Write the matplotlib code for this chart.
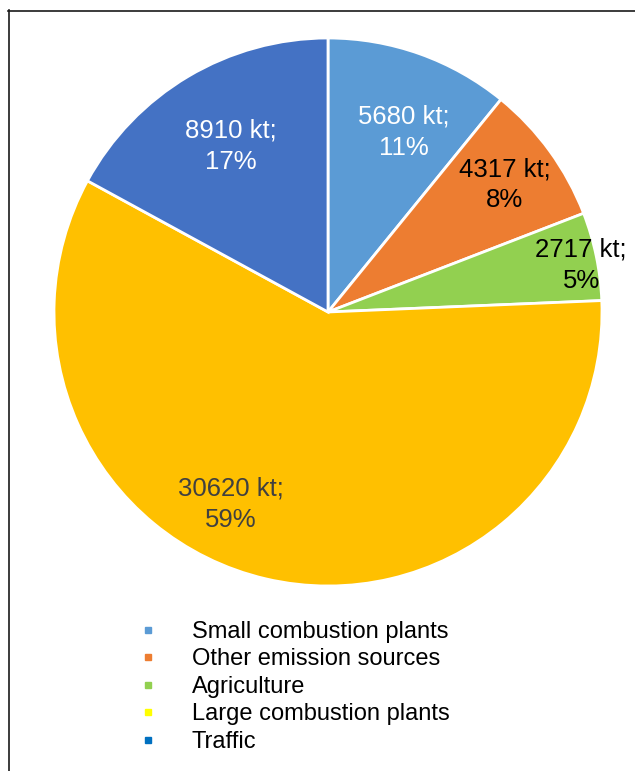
import matplotlib.pyplot as plt
import numpy as np
from matplotlib.lines import Line2D

plt.rcParams['font.family'] = ['Liberation Sans', 'DejaVu Sans']

# emission sources and amounts (kt)
sources = ['Small combustion plants', 'Other emission sources', 'Agriculture',
           'Large combustion plants', 'Traffic']
amounts = [5680, 4317, 2717, 30620, 8910]
shares = [11, 8, 5, 59, 17]

pie_colors = ['#5B9BD5', '#ED7D31', '#92D050', '#FFC000', '#4472C4']
legend_colors = ['#5B9BD5', '#ED7D31', '#92D050', '#FFFF00', '#0070C0']
label_colors = ['white', 'black', 'black', '#404040', 'white']
# (angle in degrees, radius fraction) for each data label
label_place = [(67.1, 0.713), (35.7, 0.795), (10.5, 0.94), (243.2, 0.785), (120.4, 0.70)]

W, H = 635, 771
fig = plt.figure(figsize=(W / 100, H / 100), dpi=100)
cx, cy, R = 328, 312, 274
ax = fig.add_axes([(cx - R) / W, (H - cy - R) / H, 2 * R / W, 2 * R / H])

wedges, _ = ax.pie(amounts, colors=pie_colors, startangle=90, counterclock=False,
                   radius=1, wedgeprops=dict(edgecolor='white', linewidth=2))
ax.set_xlim(-1, 1)
ax.set_ylim(-1, 1)
ax.set_aspect('equal')
ax.axis('off')

for amt, pct, col, (ang, rf) in zip(amounts, shares, label_colors, label_place):
    a = np.deg2rad(ang)
    ax.text(rf * np.cos(a), rf * np.sin(a), f'{amt} kt;\n{pct}%', color=col,
            ha='center', va='center', fontsize=18.5, linespacing=1.38)

handles = [Line2D([], [], marker='s', linestyle='none', markersize=5,
                  markerfacecolor=c, markeredgecolor=c) for c in legend_colors]
fig.legend(handles, sources, loc='upper left', bbox_to_anchor=(124 / W, 1 - 609 / H),
           frameon=False, fontsize=17, handlelength=1.0, handletextpad=1.37,
           labelspacing=0.235, borderpad=0)

# frame lines along the top and left edge
fig.add_artist(Line2D([8 / W, 1], [1 - 10.5 / H] * 2, transform=fig.transFigure,
                      color='#1a1a1a', linewidth=1.2))
fig.add_artist(Line2D([8.5 / W] * 2, [1 - 10 / H, 0], transform=fig.transFigure,
                      color='#1a1a1a', linewidth=1.2))

fig.savefig('out.png', dpi=100)
